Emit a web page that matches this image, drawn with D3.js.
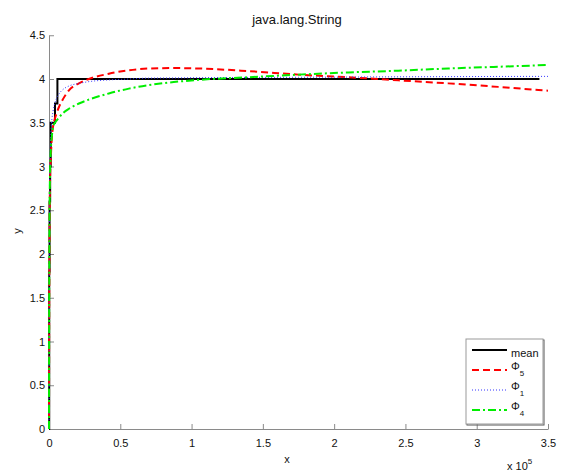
<!DOCTYPE html>
<html><head><meta charset="utf-8">
<script src="https://cdn.jsdelivr.net/npm/d3@7"></script>
<style>body{margin:0;background:#fff}svg{display:block}text{font-family:"Liberation Sans",Arial,Helvetica,sans-serif}</style>
</head><body>
<script>
const title = "java.lang.String";
const xs = [0, 100, 300, 700, 1400, 2100, 2800, 4200, 5600, 7000, 9800, 14000, 21000, 28000, 42000, 56000, 70000, 87500, 105000, 140000, 175000, 210000, 245000, 280000, 315000, 350000];
const phi5 = [0, 1.0, 2.0, 2.8, 3.15, 3.35, 3.45, 3.55, 3.62, 3.68, 3.77, 3.87, 3.95, 4.0, 4.06, 4.1, 4.12, 4.125, 4.12, 4.09, 4.05, 4.02, 3.985, 3.95, 3.91, 3.866];
const phi1 = [0, 1.3, 2.3, 3.0, 3.4, 3.55, 3.63, 3.73, 3.79, 3.83, 3.88, 3.92, 3.95, 3.97, 3.99, 4.0, 4.01, 4.012, 4.015, 4.018, 4.02, 4.022, 4.025, 4.027, 4.029, 4.03];
const phi4 = [0, 1.2, 2.2, 2.9, 3.22, 3.36, 3.45, 3.5, 3.53, 3.56, 3.61, 3.66, 3.72, 3.765, 3.835, 3.89, 3.93, 3.965, 3.99, 4.02, 4.05, 4.075, 4.095, 4.12, 4.14, 4.16];
const meanX = [0, 150, 400, 800, 1200, 4200, 5900, 344000];
const meanY = [0, 1.8, 2.6, 3.0, 3.5, 3.72, 4.0, 4.0];
const xTicks = [0, 50000, 100000, 150000, 200000, 250000, 300000, 350000];
const yTicks = [0, 0.5, 1, 1.5, 2, 2.5, 3, 3.5, 4, 4.5];
const legendLabels = [["mean", ""], ["\u03A6", "5"], ["\u03A6", "1"], ["\u03A6", "4"]];

const W = 570, H = 475;
const svg = d3.select("body").append("svg").attr("width", W).attr("height", H);
const x = d3.scaleLinear().domain([0, 350000]).range([49, 548]);
const y = d3.scaleLinear().domain([0, 4.5]).range([429, 35.25]);

const axCol = "#8a8a8a";
const gx = svg.append("g").attr("transform", `translate(0,${y(0)})`)
  .call(d3.axisBottom(x).tickValues(xTicks).tickSizeInner(-5).tickSizeOuter(0).tickPadding(10).tickFormat(d => d3.format("~g")(d / 1e5)));
const gy = svg.append("g").attr("transform", `translate(${x(0)},0)`)
  .call(d3.axisLeft(y).tickValues(yTicks).tickSizeInner(-5).tickSizeOuter(0).tickPadding(4).tickFormat(d3.format("~g")));
[gx, gy].forEach(g => {
  g.select(".domain").attr("stroke", axCol);
  g.selectAll(".tick line").attr("stroke", axCol);
  g.selectAll(".tick text").attr("fill", "#111").style("font-size", "11px").style("font-family", "'Liberation Sans',Arial,sans-serif");
});

const mk = () => d3.line().x(d => x(d[0])).y(d => y(d[1])).curve(d3.curveMonotoneX);
const stepLine = d3.line().x(d => x(d[0])).y(d => y(d[1])).curve(d3.curveStepAfter);
const series = [
  {name: "mean", pts: meanX.map((v, i) => [v, meanY[i]]), color: "#000", width: 2, dash: null, gen: stepLine},
  {name: "phi5", pts: xs.map((v, i) => [v, phi5[i]]), color: "#ff0000", width: 2, dash: "7,4", gen: mk()},
  {name: "phi1", pts: xs.map((v, i) => [v, phi1[i]]), color: "#3333ff", width: 1, dash: "1,2", gen: mk()},
  {name: "phi4", pts: xs.map((v, i) => [v, phi4[i]]), color: "#00ee00", width: 2, dash: "8,3,2,3", gen: mk()}
];
series.forEach(s => {
  svg.append("path").attr("d", s.gen(s.pts)).attr("fill", "none")
    .attr("stroke", s.color).attr("stroke-width", s.width)
    .attr("stroke-dasharray", s.dash);
});

svg.append("text").attr("x", 297).attr("y", 24).attr("text-anchor", "middle").style("font-size", "13px").attr("fill", "#111").text(title);
svg.append("text").attr("x", 287).attr("y", 463).attr("text-anchor", "middle").style("font-size", "11px").attr("fill", "#111").text("x");
svg.append("text").attr("transform", "translate(21,231) rotate(-90)").attr("text-anchor", "middle").style("font-size", "11px").attr("fill", "#111").text("y");
const ex = svg.append("text").attr("x", 507).attr("y", 470).style("font-size", "11px").attr("fill", "#111");
ex.append("tspan").text("x 10");
ex.append("tspan").attr("dy", -6).style("font-size", "8px").text("5");

// legend
const lg = svg.append("g");
lg.append("rect").attr("x", 467).attr("y", 340).attr("width", 77).attr("height", 85).attr("fill", "none").attr("stroke", "#555").attr("stroke-width", 1);
lg.append("rect").attr("x", 466).attr("y", 339).attr("width", 77).attr("height", 85).attr("fill", "#fff").attr("stroke", "#999").attr("stroke-width", 1);
const rows = [350, 370, 390, 410];
series.forEach((s, i) => {
  lg.append("line").attr("x1", 472).attr("x2", 507).attr("y1", rows[i]).attr("y2", rows[i])
    .attr("stroke", s.color).attr("stroke-width", s.width).attr("stroke-dasharray", s.dash);
  const t = lg.append("text").attr("x", 511).attr("y", rows[i] + (i === 0 ? 7 : 0)).style("font-size", "11px").attr("fill", "#111");
  t.append("tspan").text(legendLabels[i][0]);
  if (legendLabels[i][1]) t.append("tspan").attr("dy", 6).style("font-size", "8px").text(legendLabels[i][1]);
});
</script>
</body></html>
